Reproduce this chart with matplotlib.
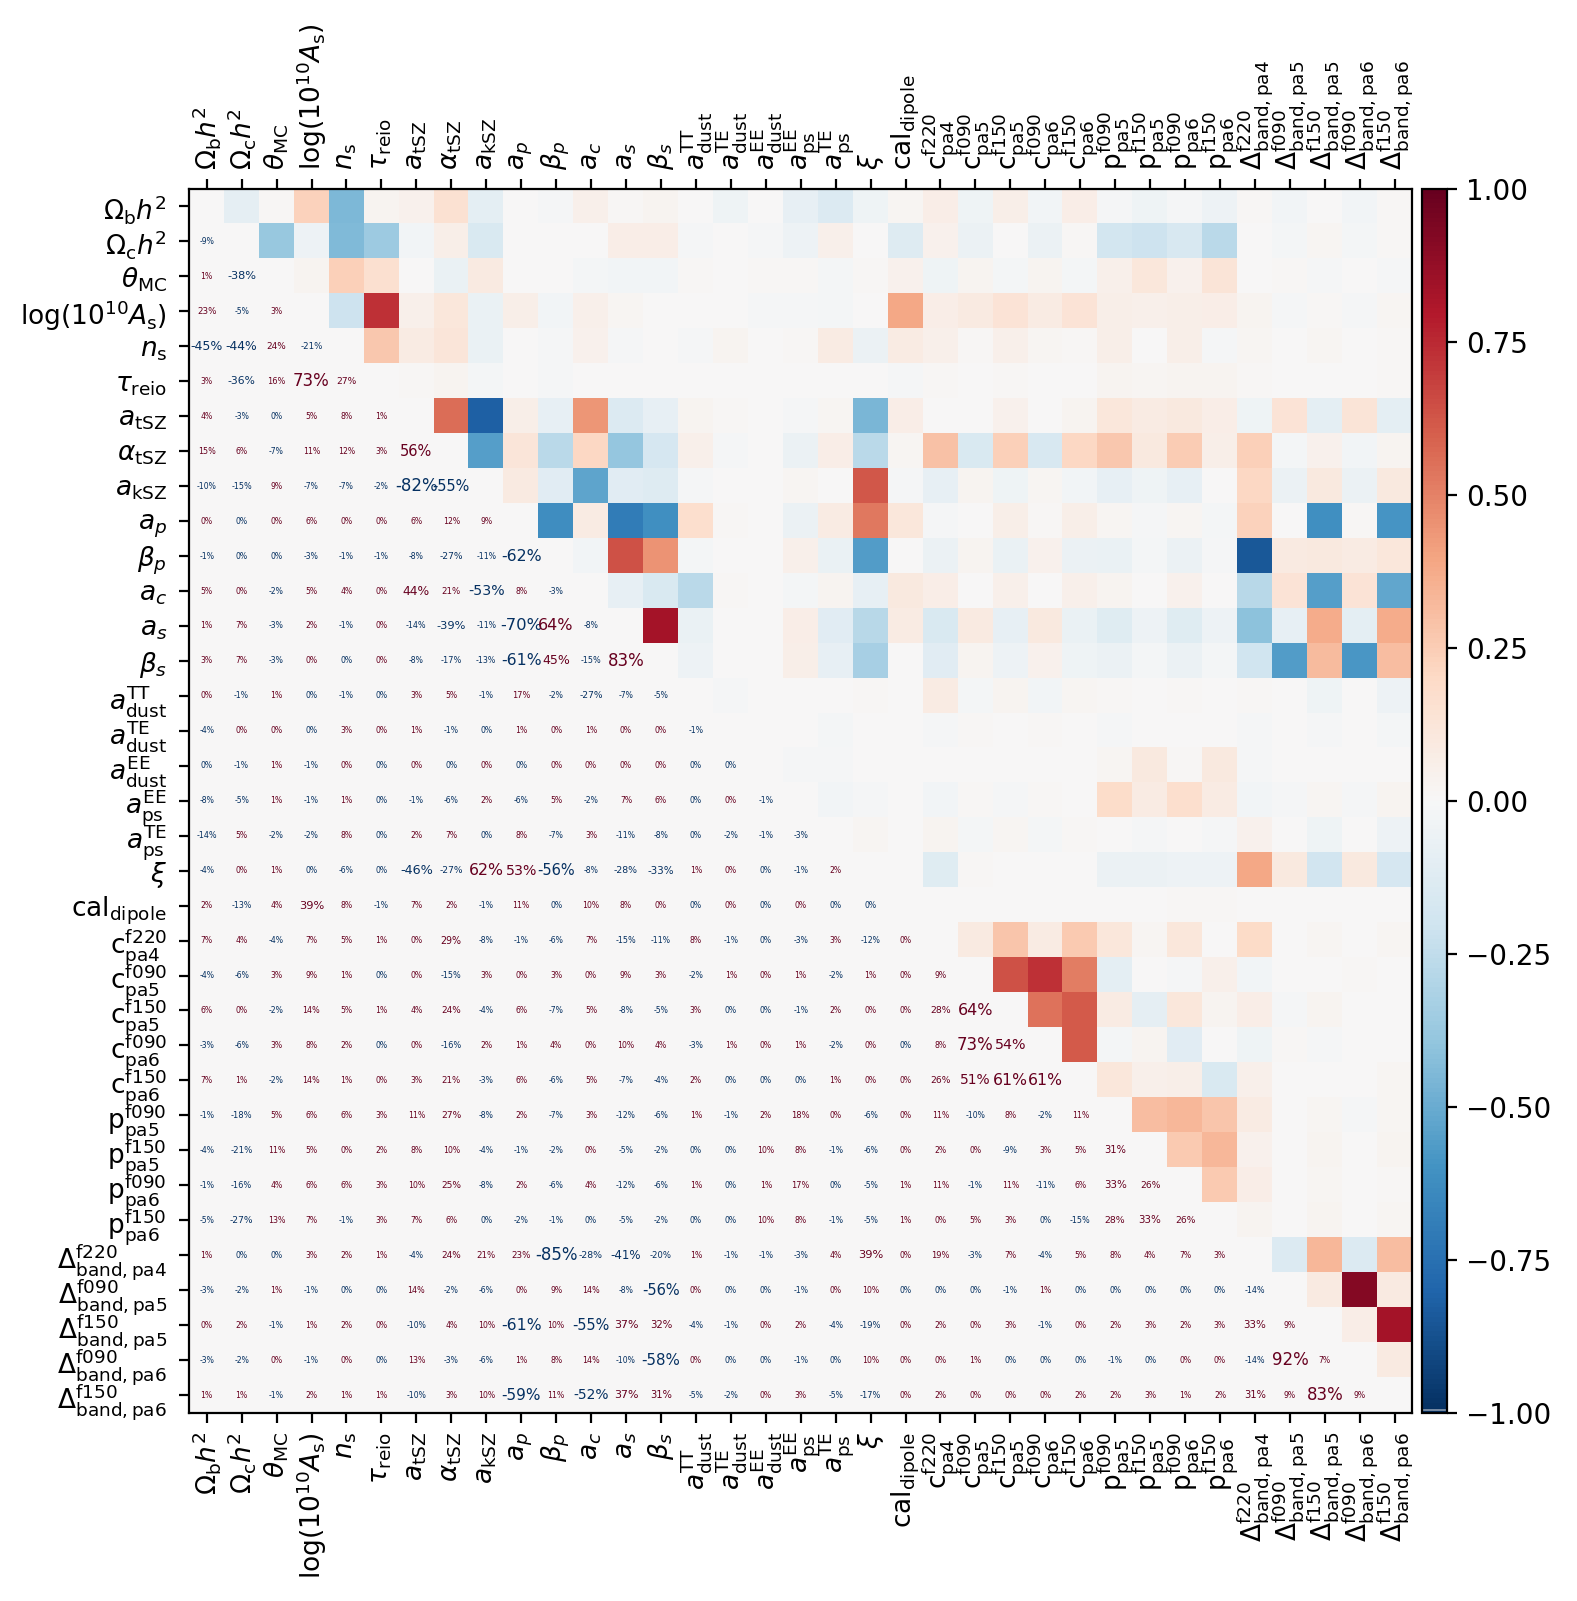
"""Parameter correlation matrix: coloured upper triangle, percent text in the lower one."""
import numpy as np
import matplotlib; matplotlib.use('Agg')
import matplotlib.pyplot as plt

labels = [r'$\Omega_\mathrm{b}h^2$', r'$\Omega_\mathrm{c}h^2$', r'$\theta_\mathrm{MC}$',
    r'$\log(10^{10}A_\mathrm{s})$', r'$n_\mathrm{s}$', r'$\tau_\mathrm{reio}$',
    r'$a_\mathrm{tSZ}$', r'$\alpha_\mathrm{tSZ}$', r'$a_\mathrm{kSZ}$', r'$a_p$', r'$\beta_p$',
    r'$a_c$', r'$a_s$', r'$\beta_s$', r'$a_\mathrm{dust}^\mathrm{TT}$', r'$a_\mathrm{dust}^\mathrm{TE}$',
    r'$a_\mathrm{dust}^\mathrm{EE}$', r'$a_\mathrm{ps}^\mathrm{EE}$', r'$a_\mathrm{ps}^\mathrm{TE}$',
    r'$\xi$', r'$\mathrm{cal}_\mathrm{dipole}$',
    r'$\mathrm{c}_\mathrm{pa4}^\mathrm{f220}$', r'$\mathrm{c}_\mathrm{pa5}^\mathrm{f090}$',
    r'$\mathrm{c}_\mathrm{pa5}^\mathrm{f150}$', r'$\mathrm{c}_\mathrm{pa6}^\mathrm{f090}$',
    r'$\mathrm{c}_\mathrm{pa6}^\mathrm{f150}$', r'$\mathrm{p}_\mathrm{pa5}^\mathrm{f090}$',
    r'$\mathrm{p}_\mathrm{pa5}^\mathrm{f150}$', r'$\mathrm{p}_\mathrm{pa6}^\mathrm{f090}$',
    r'$\mathrm{p}_\mathrm{pa6}^\mathrm{f150}$', r'$\Delta_\mathrm{band,pa4}^\mathrm{f220}$',
    r'$\Delta_\mathrm{band,pa5}^\mathrm{f090}$', r'$\Delta_\mathrm{band,pa5}^\mathrm{f150}$',
    r'$\Delta_\mathrm{band,pa6}^\mathrm{f090}$', r'$\Delta_\mathrm{band,pa6}^\mathrm{f150}$']

# lower triangle in percent, read row by row; -0. is a "0%" printed in blue
z = -0.
corr_rows = [
    [],
    [-9],
    [1, -38],
    [23, -5, 3],
    [-45, -44, 24, -21],
    [3, -36, 16, 73, 27],
    [4, -3, z, 5, 8, 1],
    [15, 6, -7, 11, 12, 3, 56],
    [-10, -15, 9, -7, -7, -2, -82, -55],
    [0, z, 0, 6, 0, 0, 6, 12, 9],
    [-1, z, z, -3, -1, -1, -8, -27, -11, -62],
    [5, 0, -2, 5, 4, 0, 44, 21, -53, 8, -3],
    [1, 7, -3, 2, -1, 0, -14, -39, -11, -70, 64, -8],
    [3, 7, -3, 0, z, 0, -8, -17, -13, -61, 45, -15, 83],
    [0, -1, 1, z, -1, z, 3, 5, -1, 17, -2, -27, -7, -5],
    [-4, 0, 0, z, 3, 0, 1, -1, z, 1, 0, 1, 0, 0, -1],
    [z, -1, 1, -1, 0, z, 0, z, 0, z, 0, 0, 0, 0, z, z],
    [-8, -5, 1, -1, 1, z, -1, -6, 2, -6, 5, -2, 7, 6, z, 0, -1],
    [-14, 5, -2, -2, 8, z, 2, 7, z, 8, -7, 3, -11, -8, z, -2, -1, -3],
    [-4, 0, 1, z, -6, z, -46, -27, 62, 53, -56, -8, -28, -33, 1, 0, z, -1, 2],
    [2, -13, 4, 39, 8, -1, 7, 2, -1, 11, z, 10, 8, 0, z, 0, z, 0, z, z],
    [7, 4, -4, 7, 5, 1, 0, 29, -8, -1, -6, 7, -15, -11, 8, -1, z, -3, 3, -12, 0],
    [-4, -6, 3, 9, 1, z, 0, -15, 3, 0, 3, 0, 9, 3, -2, 1, 0, 1, -2, 1, 0, 9],
    [6, 0, -2, 14, 5, 1, 4, 24, -4, 6, -7, 5, -8, -5, 3, z, z, -1, 2, 0, 0, 28, 64],
    [-3, -6, 3, 8, 2, z, 0, -16, 2, 1, 4, 0, 10, 4, -3, 1, 0, 1, -2, 0, z, 8, 73, 54],
    [7, 1, -2, 14, 1, 0, 3, 21, -3, 6, -6, 5, -7, -4, 2, z, z, z, 1, 0, 0, 26, 51, 61, 61],
    [-1, -18, 5, 6, 6, 3, 11, 27, -8, 2, -7, 3, -12, -6, 1, -1, 2, 18, 0, -6, 0, 11, -10, 8, -2, 11],
    [-4, -21, 11, 5, 0, 2, 8, 10, -4, -1, -2, 0, -5, -2, z, z, 10, 8, -1, -6, 0, 2, 0, -9, 3, 5, 31],
    [-1, -16, 4, 6, 6, 3, 10, 25, -8, 2, -6, 4, -12, -6, 1, z, 1, 17, z, -5, 1, 11, -1, 11, -11, 6, 33, 26],
    [-5, -27, 13, 7, -1, 3, 7, 6, z, -2, -1, z, -5, -2, z, z, 10, 8, -1, -5, 1, 0, 5, 3, z, -15, 28, 33, 26],
    [1, z, z, 3, 2, 1, -4, 24, 21, 23, -85, -28, -41, -20, 1, -1, -1, -3, 4, 39, 0, 19, -3, 7, -4, 5, 8, 4, 7, 3],
    [-3, -2, 1, -1, z, z, 14, -2, -6, 0, 9, 14, -8, -56, 0, z, z, -1, 0, 10, z, z, z, -1, 1, z, z, z, z, z, -14],
    [0, 2, -1, 1, 2, 0, -10, 4, 10, -61, 10, -55, 37, 32, -4, -1, 0, 2, -4, -19, 0, 2, 0, 3, -1, 0, 2, 3, 2, 3, 33, 9],
    [-3, -2, 0, -1, 0, z, 13, -3, -6, 1, 8, 14, -10, -58, 0, z, z, -1, z, 10, 0, 0, 1, z, z, z, -1, z, 0, 0, -14, 92, 7],
    [1, 1, -1, 2, 1, 1, -10, 3, 10, -59, 11, -52, 37, 31, -5, -2, 0, 3, -5, -17, 0, 2, 0, 0, 0, 2, 2, 3, 1, 2, 31, 9, 83, 9],
]

# font size grows with |value|
fs_at = [0, 12, 27, 39, 51, 62, 73, 100]
fs_pt = [2.8, 2.8, 3.3, 4.1, 4.95, 5.7, 6.0, 6.0]

W, H = 1577, 1601
n = len(labels)
img = np.zeros((n, n))
for i, row in enumerate(corr_rows):
    for j, v in enumerate(row):
        img[j, i] = v/100.

fig = plt.figure(figsize=(W/200, H/200), dpi=200)
ax = fig.add_axes([189.2/W, 1-1412.5/H, 1223/W, 1223.5/H])
im = ax.imshow(img, cmap='RdBu_r', vmin=-1, vmax=1, aspect='auto')

for i, row in enumerate(corr_rows):
    for j, v in enumerate(row):
        ax.text(j, i, f'{v:.0f}%'.replace('-0%', '0%'), ha='center', va='center',
                fontsize=np.interp(abs(v), fs_at, fs_pt),
                color='#053061' if np.signbit(v) else '#67001f')

ax.set_xticks(range(n)); ax.set_yticks(range(n))
ax.set_xticklabels(labels, rotation=90, fontsize=9.5); ax.set_yticklabels(labels, fontsize=9.5)
ax.tick_params(top=True, labeltop=True, bottom=True, labelbottom=True)
ax.tick_params(axis='y', pad=4.5)

cax = fig.add_axes([1422/W, 1-1412.5/H, 25/W, 1223.5/H])
cb = fig.colorbar(im, cax=cax)
cb.set_ticks(np.arange(-1, 1.01, 0.25))
cax.axhline(-0.996, color='#8a9ab0', lw=0.6)

fig.savefig('out.png', dpi=200)
plt.close()
